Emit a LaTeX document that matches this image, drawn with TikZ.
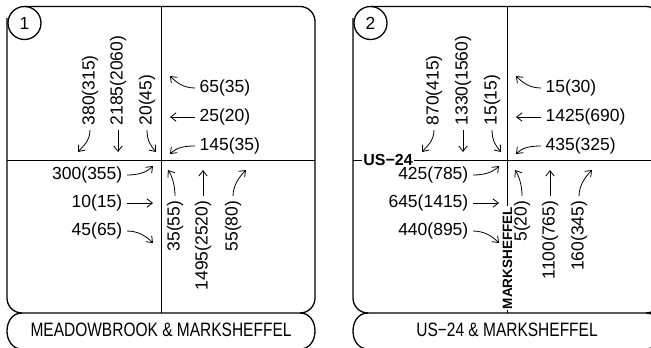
\documentclass[tikz,border=0pt]{standalone}
\usepackage{graphicx}
\usepackage{fontspec}
\setmainfont{Liberation Sans}
\usetikzlibrary{arrows.meta}

\begin{document}
\begin{tikzpicture}[x=1bp, y=-1bp,
    num/.style={inner sep=4.5bp, font=\fontsize{17.5bp}{20bp}\selectfont},
    vnum/.style={num, rotate=90},
    street/.style={fill=white, inner sep=1bp, font=\fontsize{16bp}{18bp}\selectfont\bfseries},
    title/.style={inner sep=0pt, font=\fontsize{15.5bp}{18bp}\selectfont},
    outline/.style={line width=1.3bp, line join=round},
    divider/.style={line width=0.9bp},
    move/.style={-{Straight Barb[length=5.5bp, width=8.5bp]}, line width=0.8bp}
]
\useasboundingbox (0,0) rectangle (651,347);

% panel 1: Meadowbrook & Marksheffel
\begin{scope}
    \draw[outline, rounded corners=15bp] (25,6.5) -- (315,6.5) -- (315,313) -- (7,313) -- (7,18);
    \draw[outline] (22,313) .. controls (2,313) and (2,349) .. (22,349) -- (300,349)
        .. controls (320,349) and (320,313) .. (300,313);
    \draw[divider] (161.5,6.5) -- (161.5,313);
    \draw[divider] (7,160) -- (315,160);
    \node[num, draw, circle, outline, minimum size=33bp, inner sep=0pt] (mC) at (24.5,23) {1};

    \node[vnum, anchor=west] (mN1) at (90,130) {380(315)};
    \node[vnum, anchor=west] (mN2) at (118,130) {2185(2060)};
    \node[vnum, anchor=west] (mN3) at (147,130) {20(45)};
    \draw[move] (mN1.west) .. controls +(0,11) and +(5,-6) .. (78,152);
    \draw[move] (mN2.west) -- (118,152);
    \draw[move] (mN3.west) .. controls +(0,11) and +(-5,-6) .. (156,152);

    \node[num, anchor=west] (mE1) at (195,88) {65(35)};
    \node[num, anchor=west] (mE2) at (195,117) {25(20)};
    \node[num, anchor=west] (mE3) at (195,146) {145(35)};
    \draw[move] (mE1.west) .. controls +(-12,0) and +(6,6) .. (170,76);
    \draw[move] (mE2.west) -- (170,117);
    \draw[move] (mE3.west) .. controls +(-12,0) and +(6,-6) .. (170,154);

    \node[num, anchor=east] (mW1) at (127,175) {300(355)};
    \node[num, anchor=east] (mW2) at (127,203) {10(15)};
    \node[num, anchor=east] (mW3) at (127,231) {45(65)};
    \draw[move] (mW1.east) .. controls +(12,0) and +(-6,6) .. (153,166);
    \draw[move] (mW2.east) -- (153,203);
    \draw[move] (mW3.east) .. controls +(12,0) and +(-6,-6) .. (153,243);

    \node[vnum, anchor=east] (mS1) at (175,196) {35(55)};
    \node[vnum, anchor=east] (mS2) at (203,196) {1495(2520)};
    \node[vnum, anchor=east] (mS3) at (233,196) {55(80)};
    \draw[move] (mS1.east) .. controls +(0,-11) and +(4,6) .. (168,170);
    \draw[move] (mS2.east) -- (203,170);
    \draw[move] (mS3.east) .. controls +(0,-11) and +(-6,6) .. (246,170);

    \node[title] (mT) at (161,330) {\scalebox{1}[1.25]{MEADOWBROOK \& MARKSHEFFEL}};
\end{scope}

% panel 2: US-24 & Marksheffel
\begin{scope}[xshift=346bp]
    \draw[outline, rounded corners=15bp] (25,6.5) -- (315,6.5) -- (315,313) -- (7,313) -- (7,18);
    \draw[outline] (22,313) .. controls (2,313) and (2,349) .. (22,349) -- (300,349)
        .. controls (320,349) and (320,313) .. (300,313);
    \draw[divider] (161.5,6.5) -- (161.5,313);
    \draw[divider] (7,160) -- (315,160);
    \node[num, draw, circle, outline, minimum size=33bp, inner sep=0pt] (uC) at (24.5,23) {2};

    \node[street] (uUS) at (42,160) {US−24};
    \node[street, rotate=90, font=\fontsize{13.5bp}{16bp}\selectfont\bfseries] (uMK) at (161.5,258) {MARKSHEFFEL};

    \node[vnum, anchor=west] (uN1) at (88,130) {870(415)};
    \node[vnum, anchor=west] (uN2) at (117,130) {1330(1560)};
    \node[vnum, anchor=west] (uN3) at (146,130) {15(15)};
    \draw[move] (uN1.west) .. controls +(0,11) and +(5,-6) .. (76,152);
    \draw[move] (uN2.west) -- (117,152);
    \draw[move] (uN3.west) .. controls +(0,11) and +(-5,-6) .. (155,152);

    \node[num, anchor=west] (uE1) at (195,88) {15(30)};
    \node[num, anchor=west] (uE2) at (195,117) {1425(690)};
    \node[num, anchor=west] (uE3) at (195,146) {435(325)};
    \draw[move] (uE1.west) .. controls +(-12,0) and +(6,6) .. (170,76);
    \draw[move] (uE2.west) -- (170,117);
    \draw[move] (uE3.west) .. controls +(-12,0) and +(6,-6) .. (170,154);

    \node[num, anchor=east] (uW1) at (127,175) {425(785)};
    \node[num, anchor=east] (uW2) at (127,203) {645(1415)};
    \node[num, anchor=east] (uW3) at (127,231) {440(895)};
    \draw[move] (uW1.east) .. controls +(12,0) and +(-6,6) .. (153,166);
    \draw[move] (uW2.east) -- (153,203);
    \draw[move] (uW3.east) .. controls +(12,0) and +(-6,-6) .. (153,243);

    \node[vnum, anchor=east] (uS1) at (176,196) {5(20)};
    \node[vnum, anchor=east] (uS2) at (204,196) {1100(765)};
    \node[vnum, anchor=east] (uS3) at (233,196) {160(345)};
    \draw[move] (uS1.east) .. controls +(0,-11) and +(4,6) .. (169,170);
    \draw[move] (uS2.east) -- (204,170);
    \draw[move] (uS3.east) .. controls +(0,-11) and +(-6,6) .. (246,170);

    \node[title] (uT) at (161,330) {\scalebox{1}[1.25]{US−24 \& MARKSHEFFEL}};
\end{scope}
\end{tikzpicture}
\end{document}
